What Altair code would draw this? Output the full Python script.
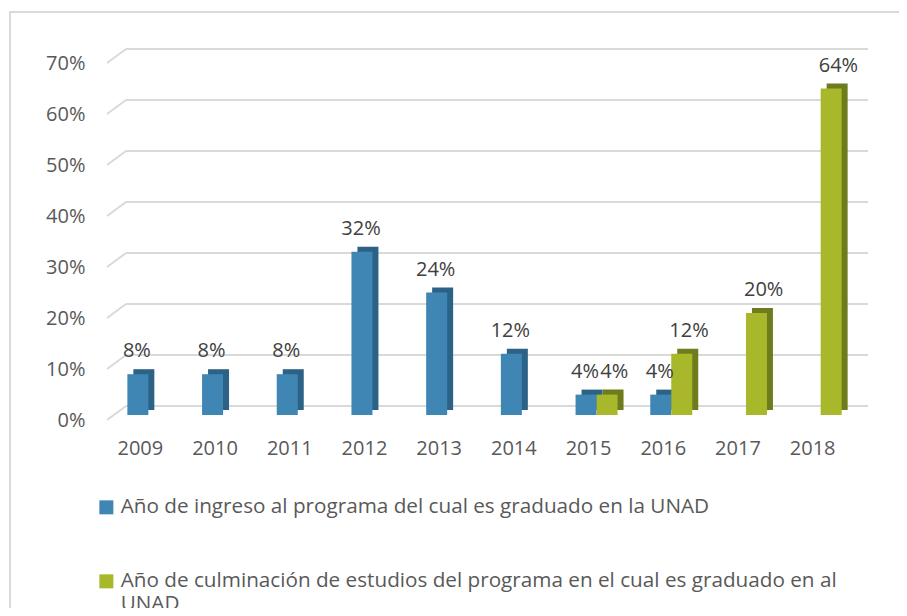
import altair as alt
import pandas as pd

years = ["2009", "2010", "2011", "2012", "2013", "2014", "2015", "2016", "2017", "2018"]
ingreso = [0.08, 0.08, 0.08, 0.32, 0.24, 0.12, 0.04, 0.04, None, None]
culminacion = [None, None, None, None, None, None, 0.04, 0.12, 0.20, 0.64]
S1 = "Año de ingreso al programa del cual es graduado en la UNAD"
S2 = "Año de culminación de estudios del programa en el cual es graduado en al UNAD"
series = [S1, S2]
front_colors = ["#3f86b4", "#a9b82b"]
side_colors = ["#2c6285", "#6f7c1d"]
tick_values = [0, 0.1, 0.2, 0.3, 0.4, 0.5, 0.6, 0.7]

rows = []
for y, a, b in zip(years, ingreso, culminacion):
    if a is not None:
        rows.append({"year": y, "serie": S1, "v": a, "dark": side_colors[0]})
    if b is not None:
        rows.append({"year": y, "serie": S2, "v": b, "dark": side_colors[1]})
df = pd.DataFrame(rows)
grid = pd.DataFrame({"v": tick_values})
one = pd.DataFrame({"a": [0]})

FONT = "Open Sans"
AX = "#595959"

x_enc = alt.X("year:O", sort=years,
              scale=alt.Scale(paddingInner=0, paddingOuter=0),
              axis=alt.Axis(title=None, labelAngle=0, domain=False, ticks=False, tickSize=0,
                            labelPadding=23, labelFontSize=20, labelColor=AX, labelFont=FONT))
xo_enc = alt.XOffset("serie:N", sort=series,
                     scale=alt.Scale(domain=series, paddingInner=0, paddingOuter=0.7786, align=0.745))
xo_side = alt.XOffset("serie:N", sort=series,
                      scale=alt.Scale(domain=series, paddingInner=0, paddingOuter=0.7786, align=0.928))
y_enc = alt.Y("v:Q", scale=alt.Scale(domain=[0, 0.7], nice=False, zero=True),
              axis=alt.Axis(title=None, values=tick_values, format=".0%", grid=False, domain=False,
                            ticks=False, tickSize=0, labelPadding=18, labelOffset=5,
                            labelFontSize=20, labelColor=AX, labelFont=FONT))

frame = alt.Chart(one).mark_rect(fill=None, stroke="#d9d9d9", strokeWidth=2).encode(
    x=alt.value(-93), x2=alt.value(830), y=alt.value(-46), y2=alt.value(620))

back_grid = alt.Chart(grid).mark_rule(color="#d9d9d9", strokeWidth=2, yOffset=-9).encode(
    x=alt.value(23), x2=alt.value(765), y=alt.Y("v:Q"))
diag = alt.Chart(grid).mark_rule(color="#d9d9d9", strokeWidth=2, yOffset=5, y2Offset=-9).encode(
    x=alt.value(4), x2=alt.value(23), y=alt.Y("v:Q"), y2="v:Q")

side = alt.Chart(df).mark_bar(yOffset=-5).encode(
    x=x_enc, xOffset=xo_side, y=y_enc, color=alt.Color("dark:N", scale=None))

front = alt.Chart(df).mark_bar().encode(
    x=x_enc, xOffset=xo_enc, y=y_enc,
    color=alt.Color("serie:N", sort=series,
                    scale=alt.Scale(domain=series, range=front_colors),
                    legend=alt.Legend(title=None, orient="none", legendX=-7, legendY=439,
                                      direction="vertical", symbolType="square", symbolSize=196,
                                      symbolStrokeWidth=0, labelFontSize=20.7, labelFont=FONT,
                                      labelColor=AX, labelLimit=900, labelOffset=4, rowPadding=52,
                                      padding=0,
                                      labelExpr="datum.label == '" + S2 + "' ? ['Año de culminación de estudios del programa en el cual es graduado en al', 'UNAD'] : datum.label")))

labels = alt.Chart(df).mark_text(baseline="alphabetic", dy=-17, fontSize=20, font=FONT,
                                 color="#404040").encode(
    x=x_enc, xOffset=xo_enc, y=y_enc, text=alt.Text("v:Q", format=".0%"))

chart = alt.layer(frame, back_grid, diag, side, front, labels).resolve_scale(
    xOffset="independent"
).properties(
    width=747, height=357,
    autosize=alt.AutoSizeParams(type="none"),
    padding={"left": 95, "top": 50, "right": 49, "bottom": 193},
).configure_view(stroke=None)

chart.save("out.html", embed_options={"renderer": "svg", "actions": False})
